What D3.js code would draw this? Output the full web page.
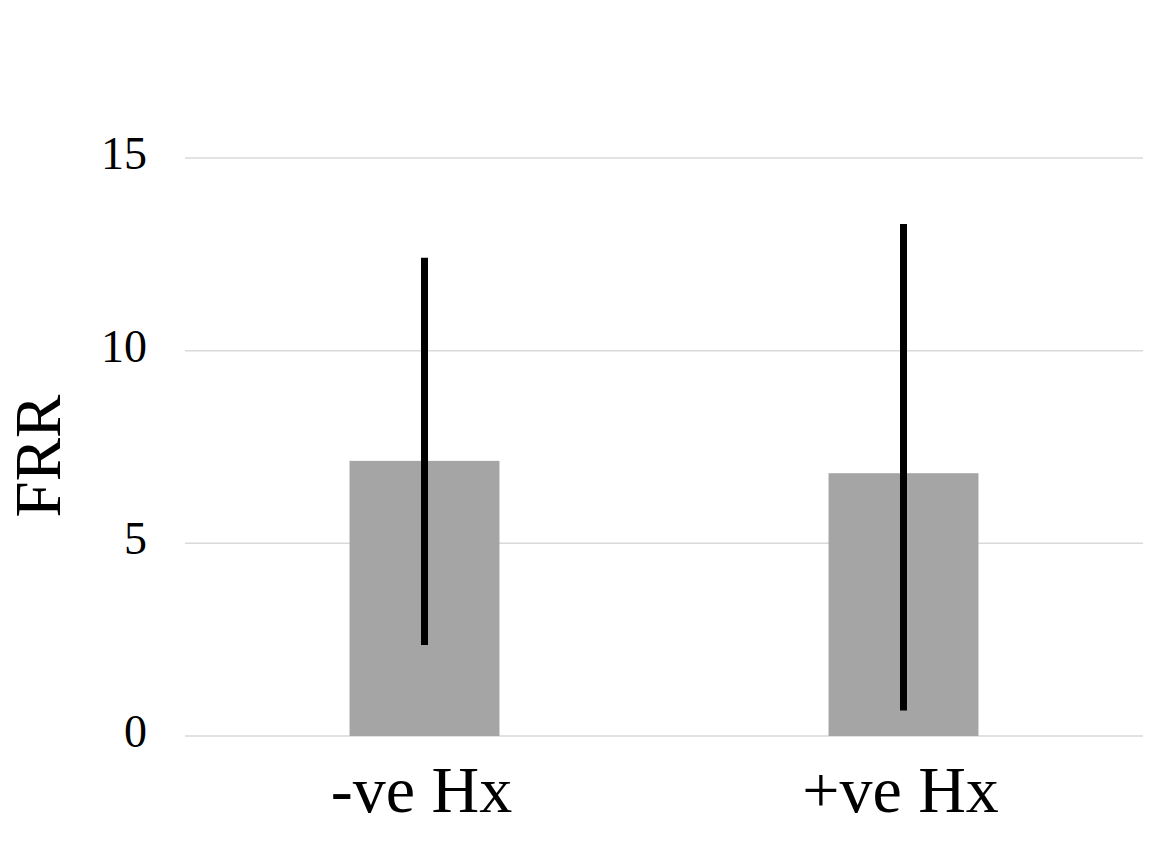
<!DOCTYPE html>
<html>
<head>
<meta charset="utf-8">
<script src="https://cdn.jsdelivr.net/npm/d3@7"></script>
<style>
  body { margin: 0; background: #fff; }
  text { font-family: "Liberation Serif", "Times New Roman", serif; fill: #000; }
</style>
</head>
<body>
<svg id="chart"></svg>
<script>
// data
var categories = ["-ve Hx", "+ve Hx"];
var values = [7.14, 6.82];
var errLow = [2.36, 0.66];
var errHigh = [12.41, 13.29];
var yTicks = [0, 5, 10, 15];

var svgWidth = 1158;
var svgHeight = 842;
var margin = { top: 158, right: 15, bottom: 106, left: 185 };
var plotW = svgWidth - margin.left - margin.right;
var plotH = svgHeight - margin.top - margin.bottom;

var svg = d3.select('#chart')
  .attr('width', svgWidth)
  .attr('height', svgHeight);

var g = svg.append('g')
  .attr('transform', 'translate(' + margin.left + ',' + margin.top + ')');

var x = d3.scaleBand()
  .domain(categories)
  .range([0, plotW])
  .paddingInner(0.687)
  .paddingOuter(0.3435);

var y = d3.scaleLinear()
  .domain([0, 15])
  .range([plotH, 0]);

// gridlines
g.selectAll('.grid')
  .data(yTicks)
  .enter()
  .append('line')
  .attr('class', 'grid')
  .attr('x1', 0)
  .attr('x2', plotW)
  .attr('y1', function(d) { return y(d); })
  .attr('y2', function(d) { return y(d); })
  .attr('stroke', '#d9d9d9')
  .attr('stroke-width', 1.5);

// y tick labels
g.selectAll('.ytick')
  .data(yTicks)
  .enter()
  .append('text')
  .attr('class', 'ytick')
  .attr('x', -38)
  .attr('y', function(d) { return y(d) + 11; })
  .attr('text-anchor', 'end')
  .style('font-size', '46px')
  .text(function(d) { return d; });

// bars
g.selectAll('.bar')
  .data(values)
  .enter()
  .append('rect')
  .attr('class', 'bar')
  .attr('x', function(d, i) { return x(categories[i]); })
  .attr('width', x.bandwidth())
  .attr('y', function(d) { return y(d); })
  .attr('height', function(d) { return y(0) - y(d); })
  .attr('fill', '#a5a5a5');

// error bars
g.selectAll('.err')
  .data(values)
  .enter()
  .append('line')
  .attr('class', 'err')
  .attr('x1', function(d, i) { return x(categories[i]) + x.bandwidth() / 2; })
  .attr('x2', function(d, i) { return x(categories[i]) + x.bandwidth() / 2; })
  .attr('y1', function(d, i) { return y(errHigh[i]); })
  .attr('y2', function(d, i) { return y(errLow[i]); })
  .attr('stroke', '#000')
  .attr('stroke-width', 7);

// category labels
g.selectAll('.xlabel')
  .data(categories)
  .enter()
  .append('text')
  .attr('class', 'xlabel')
  .attr('x', function(d) { return x(d) + x.bandwidth() / 2 - 3; })
  .attr('y', plotH + 76)
  .attr('text-anchor', 'middle')
  .style('font-size', '66px')
  .text(function(d) { return d; });

// y axis title
svg.append('text')
  .attr('transform', 'translate(60,456) rotate(-90)')
  .attr('text-anchor', 'middle')
  .style('font-size', '65px')
  .text('FRR');
</script>
</body>
</html>
